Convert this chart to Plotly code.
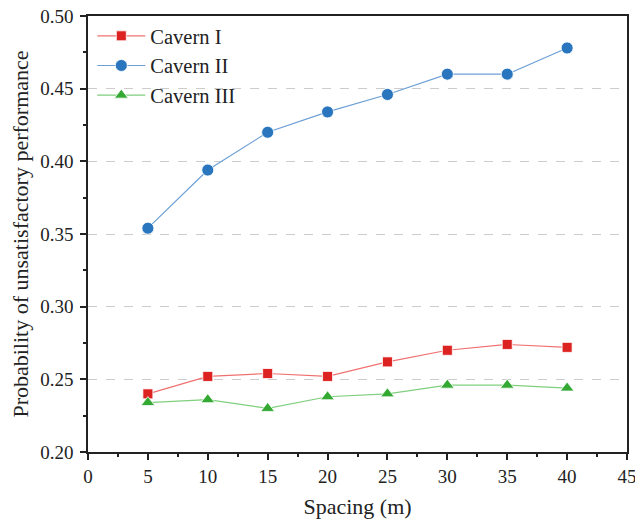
import plotly.graph_objects as go

spacing = [5, 10, 15, 20, 25, 30, 35, 40]
cavern_1 = [0.240, 0.252, 0.254, 0.252, 0.262, 0.270, 0.274, 0.272]
cavern_2 = [0.354, 0.394, 0.420, 0.434, 0.446, 0.460, 0.460, 0.478]
cavern_3 = [0.234, 0.236, 0.230, 0.238, 0.240, 0.246, 0.246, 0.244]

names = ["Cavern I", "Cavern II", "Cavern III"]
series = [cavern_1, cavern_2, cavern_3]
symbols = ["square", "circle", "triangle-up"]
mcolors = ["#DD2222", "#2A76BE", "#33A833"]
lcolors = ["#F07070", "#6C9FD6", "#7FCF7F"]
msizes = [10, 12, 12]

fig = go.Figure()
for n, s, sym, mc, lc, ms in zip(names, series, symbols, mcolors, lcolors, msizes):
    fig.add_trace(go.Scatter(
        x=spacing, y=s, name=n, mode="lines+markers",
        line=dict(color=lc, width=1.2),
        marker=dict(symbol=sym, size=ms, color=mc, line=dict(color="#FFFFFF", width=0.8)),
    ))

font = "Liberation Serif"
fig.update_layout(
    width=635, height=522,
    margin=dict(l=88, r=8, t=16, b=70),
    paper_bgcolor="white", plot_bgcolor="white",
    font=dict(family=font, color="#222222", size=19),
    showlegend=True,
    legend=dict(x=0.008, y=1.0, xanchor="left", yanchor="top",
                bgcolor="rgba(0,0,0,0)", font=dict(size=20.5, family=font),
                itemwidth=48, tracegroupgap=0),
)
fig.update_xaxes(
    range=[0, 45], tickvals=[0, 5, 10, 15, 20, 25, 30, 35, 40, 45],
    ticks="outside", ticklen=6, tickwidth=1.5, tickcolor="#222",
    minor=dict(dtick=2.5, tick0=0, ticks="outside", ticklen=3, tickwidth=1.5, tickcolor="#222"),
    showline=True, linecolor="#222", linewidth=1.5, mirror=True,
    showgrid=False, zeroline=False, automargin=False, ticklabeloverflow="allow",
    title=dict(text="Spacing (m)", font=dict(size=22, family=font), standoff=13),
    tickfont=dict(size=19, family=font),
)
fig.update_yaxes(
    range=[0.20, 0.50], tickvals=[0.20, 0.25, 0.30, 0.35, 0.40, 0.45, 0.50],
    tickformat=".2f",
    ticks="outside", ticklen=6, tickwidth=1.5, tickcolor="#222",
    minor=dict(dtick=0.025, tick0=0.2, ticks="outside", ticklen=3, tickwidth=1.5, tickcolor="#222", showgrid=False),
    showline=True, linecolor="#222", linewidth=1.5, mirror=True,
    showgrid=True, gridcolor="#CCCCCC", griddash="dash", gridwidth=1,
    zeroline=False, automargin=False, ticklabelstandoff=3, ticklabeloverflow="allow",
    title=dict(text="Probability of unsatisfactory performance", font=dict(size=22, family=font), standoff=6),
    tickfont=dict(size=19, family=font),
)

fig.write_html("out.html")
